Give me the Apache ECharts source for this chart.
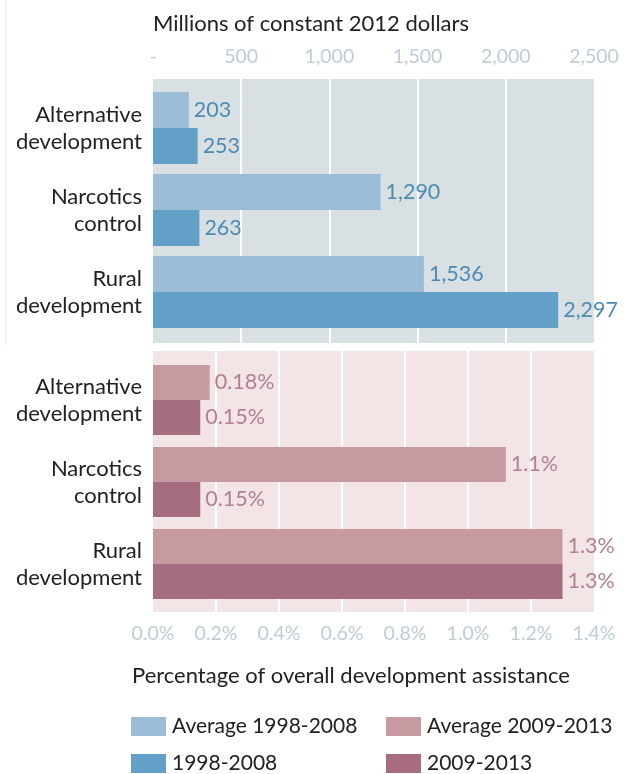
<!DOCTYPE html>
<html>
<head>
<meta charset="utf-8">
<script src="https://cdn.jsdelivr.net/npm/echarts@6/dist/echarts.min.js"></script>
<style>
html,body{margin:0;padding:0;background:#fff;}
#chart{width:624px;height:774px;}
</style>
</head>
<body>
<div id="chart"></div>
<script>
// ---- data ----
const categories = ['Alternative\ndevelopment', 'Narcotics\ncontrol', 'Rural\ndevelopment'];
const avg1998_2008 = [203, 1290, 1536];
const val1998_2008 = [253, 263, 2297];
const avg2009_2013 = [0.18, 1.12, 1.3];
const val2009_2013 = [0.15, 0.15, 1.3];
const dollarTicks = { min: 0, max: 2500, interval: 500 };
const pctTicks = { min: 0, max: 1.4, interval: 0.2 };
const seriesNames = ['Average 1998-2008', '1998-2008', 'Average 2009-2013', '2009-2013'];

const FONT = 'Lato';
const chart = echarts.init(document.getElementById('chart'), null, { renderer: 'canvas' });

const fmtDollar = v => v === 0 ? '-' : v.toLocaleString('en-US');
const fmtPct = v => v.toFixed(1) + '%';

const hiddenValueAxis = (gi) => ({ type: 'value', gridIndex: gi, show: false, min: 0, max: 1 });

const catLabel = { fontSize: 22, fontFamily: FONT, color: '#222', margin: 11, lineHeight: 27, align: 'right', padding: [4, 0, 0, 0] };
const legendCommon = { orient: 'vertical', top: 716, padding: 0,
  itemWidth: 35, itemHeight: 19, itemGap: 16, icon: 'rect', selectedMode: false,
  textStyle: { fontFamily: FONT, fontSize: 21, color: '#222', padding: [0, 0, 0, 1] } };

const option = {
  backgroundColor: '#ffffff',
  textStyle: { fontFamily: FONT },
  title: [
    { text: 'Millions of constant 2012 dollars', left: 148, top: 8,
      textStyle: { fontFamily: FONT, fontSize: 22, fontWeight: 'normal', color: '#222' } },
    { text: 'Percentage of overall development assistance', left: 127, top: 660,
      textStyle: { fontFamily: FONT, fontSize: 22, fontWeight: 'normal', color: '#222' } }
  ],
  legend: [
    Object.assign({ data: [seriesNames[0], seriesNames[1]], left: 131 }, legendCommon),
    Object.assign({ data: [seriesNames[2], seriesNames[3]], left: 386 }, legendCommon)
  ],
  graphic: [
    { type: 'line', shape: { x1: 6, y1: 0, x2: 6, y2: 345 }, style: { stroke: '#eef1f3', lineWidth: 2 } }
  ],
  grid: [
    { left: 153, top: 79, width: 441, height: 264, show: true, backgroundColor: '#d9e0e4', borderWidth: 0 },
    { left: 153, top: 87, width: 441, height: 246 },
    { left: 153, top: 351, width: 441, height: 261, show: true, backgroundColor: '#f3e4e6', borderWidth: 0 },
    { left: 153, top: 359, width: 441, height: 246 }
  ],
  xAxis: [
    { type: 'value', gridIndex: 0, position: 'top', min: dollarTicks.min, max: dollarTicks.max, interval: dollarTicks.interval,
      axisLine: { show: false }, axisTick: { show: false },
      axisLabel: { formatter: fmtDollar, color: '#bfccd6', fontSize: 19.5, fontFamily: FONT, margin: 12 },
      splitLine: { show: true, showMinLine: false, showMaxLine: false, lineStyle: { color: '#ffffff', width: 2 } } },
    { type: 'value', gridIndex: 1, min: dollarTicks.min, max: dollarTicks.max, show: false },
    { type: 'value', gridIndex: 2, position: 'bottom', min: pctTicks.min, max: pctTicks.max, interval: pctTicks.interval,
      axisLine: { show: false }, axisTick: { show: false },
      axisLabel: { formatter: fmtPct, color: '#bfccd6', fontSize: 19.5, fontFamily: FONT, margin: 12 },
      splitLine: { show: true, showMinLine: false, showMaxLine: false, lineStyle: { color: '#ffffff', width: 2 } } },
    { type: 'value', gridIndex: 3, min: pctTicks.min, max: pctTicks.max, show: false }
  ],
  yAxis: [
    hiddenValueAxis(0),
    { type: 'category', gridIndex: 1, data: categories, inverse: true,
      axisLine: { show: false }, axisTick: { show: false }, splitLine: { show: false },
      axisLabel: catLabel },
    hiddenValueAxis(2),
    { type: 'category', gridIndex: 3, data: categories, inverse: true,
      axisLine: { show: false }, axisTick: { show: false }, splitLine: { show: false },
      axisLabel: catLabel }
  ],
  series: [
    { name: seriesNames[0], type: 'bar', xAxisIndex: 1, yAxisIndex: 1, data: avg1998_2008,
      barWidth: 36, barGap: '0%', itemStyle: { color: '#9bbdd6' },
      label: { show: true, position: 'right', distance: 5, formatter: p => fmtDollar(p.value), fontSize: 21.5, fontFamily: FONT, color: '#4d8bb5' } },
    { name: seriesNames[1], type: 'bar', xAxisIndex: 1, yAxisIndex: 1, data: val1998_2008,
      barWidth: 36, barGap: '0%', itemStyle: { color: '#63a0c7' },
      label: { show: true, position: 'right', distance: 5, formatter: p => fmtDollar(p.value), fontSize: 21.5, fontFamily: FONT, color: '#4d8bb5' } },
    { name: seriesNames[2], type: 'bar', xAxisIndex: 3, yAxisIndex: 3, data: avg2009_2013,
      barWidth: 35, barGap: '0%', itemStyle: { color: '#c79aa2' },
      label: { show: true, position: 'right', distance: 5, formatter: p => Number(p.value).toPrecision(2) + '%', fontSize: 21.5, fontFamily: FONT, color: '#b3808f' } },
    { name: seriesNames[3], type: 'bar', xAxisIndex: 3, yAxisIndex: 3, data: val2009_2013,
      barWidth: 35, barGap: '0%', itemStyle: { color: '#a66c80' },
      label: { show: true, position: 'right', distance: 5, formatter: p => Number(p.value).toPrecision(2) + '%', fontSize: 21.5, fontFamily: FONT, color: '#b3808f' } }
  ]
};
chart.setOption(option);
</script>
</body>
</html>
